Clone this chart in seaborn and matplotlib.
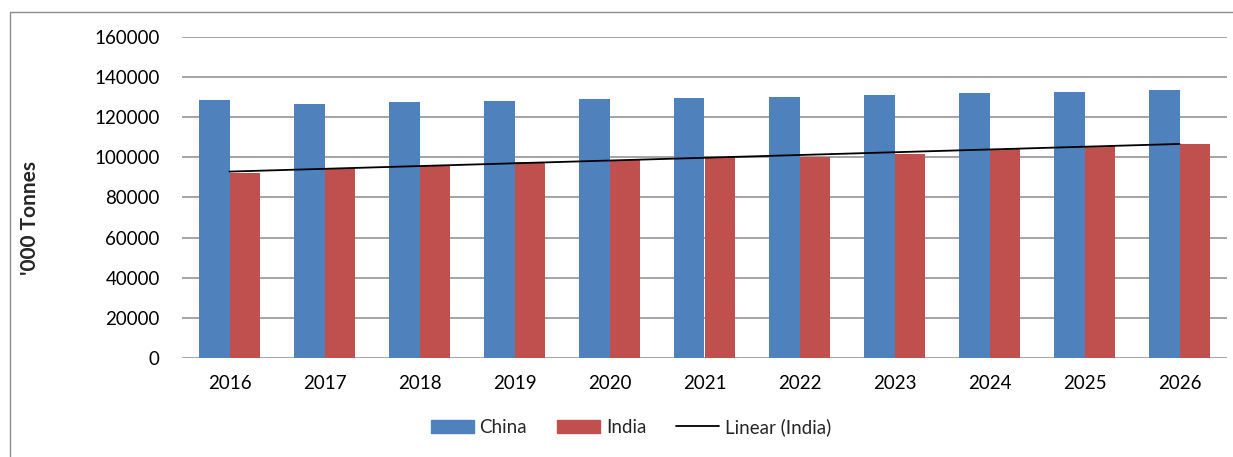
import numpy as np
import pandas as pd
import matplotlib
matplotlib.use("Agg")
import matplotlib.pyplot as plt
from matplotlib.patches import Patch, Rectangle
from matplotlib.lines import Line2D
import seaborn as sns

sns.set_theme(style="white")
plt.rcParams["font.family"] = ["Lato", "DejaVu Sans"]

# values ('000 tonnes)
years = [2016, 2017, 2018, 2019, 2020, 2021, 2022, 2023, 2024, 2025, 2026]
china = [128650, 126660, 127450, 128150, 128950, 129650, 130300, 131300, 132100, 132800, 133800]
india = [92250, 94700, 95900, 97500, 98860, 100000, 100200, 101700, 104300, 105650, 106800]
series_names = ["China", "India"]
colors = ["#4F81BD", "#C0504D"]
y_ticks = list(range(0, 160001, 20000))

df = pd.DataFrame({
    "Year": [str(y) for y in years] * 2,
    "Series": ["China"] * len(years) + ["India"] * len(years),
    "Value": china + india,
})

W, H = 1233, 457
fig = plt.figure(figsize=(W / 100, H / 100), dpi=100)
ax = fig.add_axes([182 / W, 1 - 358 / H, 1045 / W, 321 / H])

# outer chart frame
fig.patches.append(Rectangle((10 / W, -0.05), 1.1, 1 - 12 / H + 0.05,
                             transform=fig.transFigure, fill=False,
                             edgecolor="#8c8c8c", linewidth=1.0))

sns.barplot(data=df, x="Year", y="Value", hue="Series", palette=colors,
            width=0.65, saturation=1, legend=False, ax=ax, linewidth=0)

# linear trend for India
xs = np.arange(len(years))
k, b = np.polyfit(xs, india, 1)
ax.plot(xs, k * xs + b, color="black", linewidth=1.3, zorder=5)

ax.set_xlim(-0.5, len(years) - 0.5)
ax.set_ylim(0, 160000)
ax.set_yticks(y_ticks)
ax.set_yticklabels([str(v) for v in y_ticks])
ax.yaxis.grid(True, color="#8c8c8c", linewidth=1.1)
ax.set_axisbelow(True)
for s in ax.spines.values():
    s.set_visible(False)
ax.tick_params(axis="y", length=0, pad=16, labelsize=13.5, colors="black")
ax.tick_params(axis="x", length=0, pad=12, labelsize=13.5, colors="black")
ax.set_xlabel("")
ax.set_ylabel("")

fig.text(30 / W, 1 - 218 / H, "'000 Tonnes", rotation=90, fontsize=15,
         fontweight="bold", ha="center", va="center")

handles = [Patch(color=colors[0], label="China"),
           Patch(color=colors[1], label="India"),
           Line2D([], [], color="black", linewidth=1.3, label="Linear (India)")]
fig.legend(handles=handles, loc="center", bbox_to_anchor=(631 / W, 1 - 427 / H),
           ncol=3, frameon=False, fontsize=13.5, handlelength=2.3,
           handletextpad=0.3, columnspacing=1.6)

fig.savefig("out.png", dpi=100)
